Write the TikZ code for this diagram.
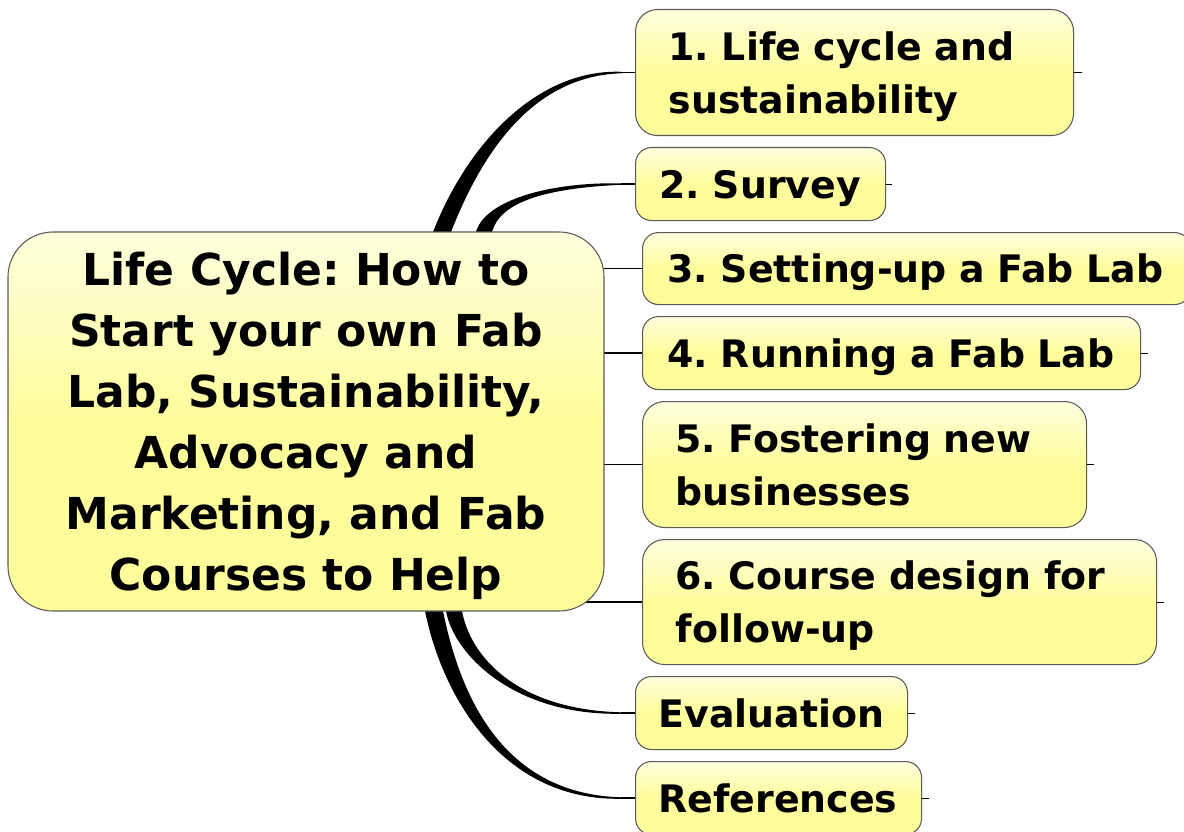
\documentclass[tikz,border=0pt]{standalone}
\usepackage{fontspec}
\setmainfont{DejaVu Sans}
\usetikzlibrary{calc,backgrounds}
\newdimen\mmpx \mmpx=0.75pt
\definecolor{mmtop}{RGB}{255,255,222}
\definecolor{mmbot}{RGB}{255,253,155}
\definecolor{mmedge}{RGB}{90,90,90}
% tapered branch: x0,y0,c1x,c1y,c2x,c2y,target node,half width,sign
\newcommand{\mmtaper}[9]{%
  \fill ({#1-#8},{#2}) .. controls ({#3-#8},{#4}) and ({#5},{#6-(#9)*#8/2.5}) .. ($(#7.west)+(-13,{-(#9)*0.7})$)
    -- ($(#7.west)+(-13,{(#9)*0.7})$) .. controls ({#5},{#6+(#9)*#8/2.5}) and ({#3+#8},{#4}) .. ({#1+#8},{#2})
    -- ({#1+#8},{#2+(#9)*30}) -- ({#1-#8},{#2+(#9)*30}) -- cycle;
  \draw[mmline] ($(#7.west)+(-14,0)$) -- (#7.west);}
\begin{document}
\begin{tikzpicture}[x=0.75pt,y=-0.75pt,
  boxbase/.style={draw=mmedge, line width=0.8pt, top color=mmtop, bottom color=mmbot, middle color=mmbot,
    execute at begin node={\frenchspacing\hyphenpenalty=10000\exhyphenpenalty=10000}},
  topic/.style={boxbase, rounded corners=22\mmpx, anchor=north west, align=left, inner ysep=0pt,
    font=\fontsize{28.4}{39.75}\selectfont\bfseries},
  oneline/.style={text depth=0pt},
  twoline/.style={text depth=39.75pt},
  central/.style={boxbase, rounded corners=45\mmpx, align=center, inner sep=0pt, text depth=0pt,
    minimum width=596\mmpx, minimum height=379\mmpx, font=\fontsize{33}{45.75}\selectfont\bfseries},
  mmline/.style={line width=1.1pt, black},
  mmstub/.style={line width=0.6pt, black}]
\useasboundingbox (0,0) rectangle (1184,831);

\node[central] (c) at (306,421.5) {Life Cycle: How to\\Start your own Fab\\Lab, Sustainability,\\Advocacy and\\Marketing, and Fab\\Courses to Help};

\node[topic, twoline, minimum width=438\mmpx, minimum height=126\mmpx, inner xsep=33\mmpx, text width=372\mmpx] (b1) at (635,9) {1.~Life cycle and\\sustainability};
\node[topic, oneline, minimum width=250\mmpx, minimum height=73\mmpx, inner xsep=24\mmpx, text width=202\mmpx, rounded corners=16\mmpx] (b2) at (635,147) {2.~Survey};
\node[topic, oneline, minimum width=548\mmpx, minimum height=72\mmpx, inner xsep=25\mmpx, text width=498\mmpx, rounded corners=16\mmpx] (b3) at (642,232) {3.~Setting-up~a~Fab~Lab};
\node[topic, oneline, minimum width=498\mmpx, minimum height=73\mmpx, inner xsep=25\mmpx, text width=448\mmpx, rounded corners=16\mmpx] (b4) at (642,316) {4.~Running~a~Fab~Lab};
\node[topic, twoline, minimum width=444\mmpx, minimum height=126\mmpx, inner xsep=33\mmpx, text width=378\mmpx] (b5) at (642,401) {5.~Fostering new\\businesses};
\node[topic, twoline, minimum width=514\mmpx, minimum height=125\mmpx, inner xsep=33\mmpx, text width=448\mmpx] (b6) at (642,539) {6.~Course design for\\follow-up};
\node[topic, oneline, minimum width=272\mmpx, minimum height=73\mmpx, inner xsep=23\mmpx, text width=226\mmpx, rounded corners=16\mmpx] (b7) at (635,676) {Evaluation};
\node[topic, oneline, minimum width=286\mmpx, minimum height=73\mmpx, inner xsep=23\mmpx, text width=240\mmpx, rounded corners=16\mmpx] (b8) at (635,761) {References};

\begin{scope}[on background layer]
  \mmtaper{442}{232}{478}{140}{540}{72}{b1}{9}{1}
  \mmtaper{484}{232}{492}{202}{545}{185}{b2}{8}{1}
  \mmtaper{454}{611}{462}{655}{515}{713}{b7}{8}{-1}
  \mmtaper{434}{611}{452}{700}{505}{798}{b8}{9}{-1}
  \draw[mmline] ($(c.east|-b3.west)+(-40,0)$) -- (b3.west);
  \draw[mmline] ($(c.east|-b4.west)+(-40,0)$) -- (b4.west);
  \draw[mmline] ($(c.east|-b5.west)+(-40,0)$) -- (b5.west);
  \draw[mmline] ($(c.east|-b6.west)+(-40,0)$) -- (b6.west);
\end{scope}

\coordinate (e1) at ($(b1.east)+(8,0)$);
\coordinate (e2) at ($(b2.east)+(6,0)$);
\coordinate (e4) at ($(b4.east)+(7,0)$);
\coordinate (e5) at ($(b5.east)+(7,0)$);
\coordinate (e6) at ($(b6.east)+(7,0)$);
\coordinate (e7) at ($(b7.east)+(7,0)$);
\coordinate (e8) at ($(b8.east)+(7,0)$);
\foreach \b/\e in {b1/e1,b2/e2,b4/e4,b5/e5,b6/e6,b7/e7,b8/e8}
  \draw[mmstub] (\b.east) -- (\e);
\end{tikzpicture}
\end{document}
